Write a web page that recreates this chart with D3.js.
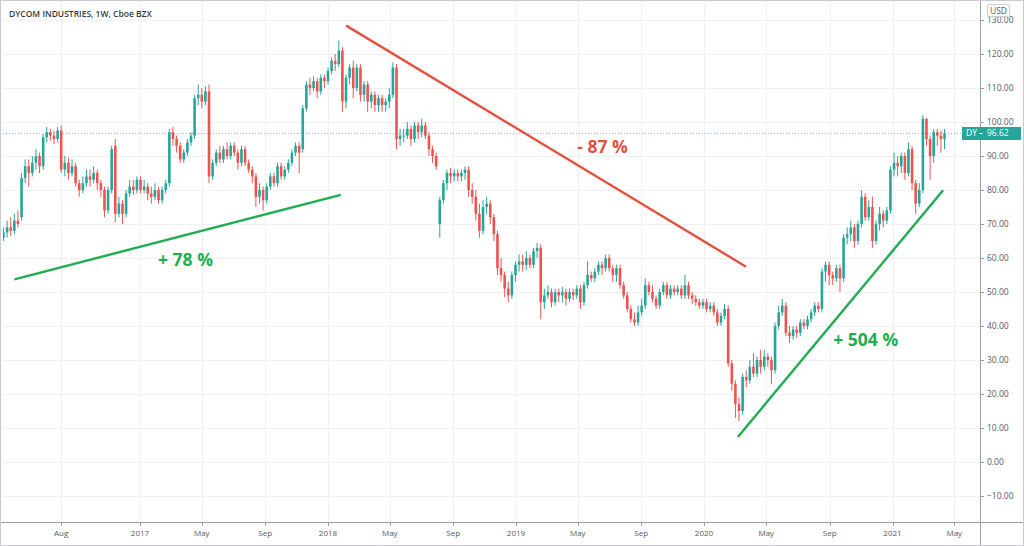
<!DOCTYPE html>
<html><head><meta charset="utf-8">
<script src="https://cdn.jsdelivr.net/npm/d3@7"></script>
<style>
body{margin:0;background:#fff;}
svg{display:block;font-family:"Open Sans","DejaVu Sans",sans-serif;}
</style>
</head><body>
<svg id="chart" width="1024" height="546"></svg>
<script>
// ---- data (weekly candles, DY, from week of 2016-04-11) ----
const firstWeek = "2016-04-11";
const opens = [66,67.5,69,68,71,72,83.5,87,85,88,
 90,87,95.5,97,96,95,97.5,86,88,85,
 87,82,80,82,84,83,85,82,80,74,
 80,93,73,76,73,79,81,80,83,80,
 81,79,78,80,77,80,82,97,95,93,
 89,91,94,96,107,108,106,109,84,88,
 91,89,92,90,93,91,88,92,88,86,
 84,78,80,77,81,84,82,87,84,86,
 88,91,93,92,104,111,110,112,109,113,
 112,115,118,117,121,106,113,116,110,116,
 108,111,106,108,105,107,105,106,108,116,
 95,96,96,98,95,99,97,99,96,92,
 90,70,77,82,85,84,85,84,85,86,
 80,78,73,68,75,76,72,67,57,55,
 51,49,55,58,59,58,60,58,62,63,
 47,49,50,47,50,49,50,48,50,49,
 51,47,52,55,54,56,58,57,60,57,
 55,57,52,49,45,42,41,44,46,52,
 50,48,46,50,52,49,51,50,51,49,
 52,49,48,47,46,47,45,46,44,41,
 43,45,29,23,17,15,25,24,28,26,
 30,28,31,30,27,40,44,46,38,37,
 39,38,41,40,42,44,46,45,56,58,
 55,54,57,54,66,67,69,65,70,78,
 72,75,65,70,73,71,74,86,88,87,
 90,85,92,82,76,80,101,95,90,97,
 96,95];
const highs = [69,71,72,73,74,85,89,89,90,92,
 91,96.5,98.5,98,97.5,98.5,99,90,89.5,89,
 88,83,84,86,86,87,86,83,81,81,
 93,95,78,77,80,83,83,84,84,83,
 82,81,82,81,81,83,98,98.5,96,94,
 92,95,97,108,111,110,110.5,111,89,92,
 93,93,94,94,94,92,93,93,89,87,
 85,82,81,82,85,85,88,88,87,89,
 92,94,94,105,112,113,113.5,113,114,114,
 116,119,120,124,122,114,117,118,117,117,
 112,112,109,109,108,108,107,110,117.5,117,
 98,98,100,99,100,100,101,100,97,93,
 91,78,83,86,86.5,86,86,86,87,87,
 82,80,76,77,78,77,73,68,60,56,
 53,56,59,61,61,62,61,63,64.5,64,
 51,52,51,51,51,51.5,51,51,51,52,
 52,53,59,56,57,59,59,61,61,58,
 58,58,53,50,46,44,46,48,54,53,
 52,49,51,53,53,52,52,52,52,55,
 53,50,49,48,48,48,47,47,45,44,
 46.5,46,30,24,19,26,27,30,32,31,
 33,33,32,31,41,46,48,47,40,40,
 40,42,42,43,45,47,47,57,59,59,
 56,58,58,67,69,71,70,71,80,79,
 77,78,71,75,74,75,87,91,90,91,
 91,94,93,83,82,102,101,96,98,98,
 97.5,98];
const lows = [65,66,66.5,67,69,71,82,81,84,86,
 85,86,94,94.5,93.5,94,85,84,83,84,
 81,78,79,81,81,82,80,78,72,73,
 79,70.5,72,70,72,78,78.5,79,79,79,
 77,76,77,76,76,79,81,93,91,88,
 88,90,93,95,105,104,105,82,83,87,
 88,88,89,89,90,86,87,87,85,82,
 75,76,74,76,80,81,81,83,83,85,
 87,90,85,91,103,108,109,107,108,110,
 111,114,115,116,103,104,111,107,109,106,
 106,103,104,103,103,103,103,104,107,92,
 93,94,95,93,94,95,95.5,95,90,88,
 86,66,76,80,82,82.5,82.5,82.5,83,78,
 76,71,66,67,73,70,65,55,53,48.5,
 47,48,53,56,56,56.5,57,57,60,42,
 45,48,45.5,46,47,47,46,47,47.5,48,
 45,46,51,53,53,55,55,56,56,53,
 53,51,48,44,41,40,40,43,45,49,
 47,45,45,49,48,48,49,49,48,48,
 48,46.5,46,45,45,44,44,43,40,40,
 42,28,21,13,12,14,22,23,25,25,
 26,27,28,23,26,39,43,37,35,36,
 36.5,37,39,39,41,43,44,44,53,52,
 52,53,50,53,64,65,63,64,69,71,
 71,63,64,68,69,70,73,84,84,85,
 83,84,80,73,75,79,93,83,88,93,
 91,92];
const closes = [67.5,69,68,71,70,83.5,87,85,88,90,
 87,95.5,97,96,95,97.5,86,88,85,87,
 82,80,82,84,83,85,82,80,74,80,
 92,73,76,73,79,81,80,83,80,81,
 79,78,80,77,80,82,97,95,93,89,
 91,94,96,107,108,106,109,84,88,91,
 89,92,90,93,91,88,92,88,86,84,
 78,80,77,81,84,82,87,84,86,88,
 91,93,91,104,111,110,112,109,113,112,
 115,118,117,121,106,113,116,110,116,108,
 111,106,108,105,107,105,106,108,116,95,
 96,96,98,95,99,97,99,96,92,90,
 87,77,82,85,84,85,84,85,86,80,
 78,73,68,75,76,72,67,57,55,51,
 49,55,58,59,58,60,58,62,63,47,
 49,50,47,50,49,50,48,50,49,51,
 47,52,55,54,56,58,57,60,57,55,
 57,52,49,45,42,41,44,46,52,50,
 48,46,50,52,49,51,50,51,49,52,
 49,48,47,46,47,45,46,44,41,43,
 45,29,23,17,15,25,24,28,26,30,
 28,31,30,27,40,44,46,38,37,39,
 38,41,40,42,44,46,45,56,58,55,
 54,57,54,66,67,69,65,70,78,72,
 75,65,70,73,71,74,86,88,87,90,
 85,92,82,76,80,101,95,90,97,96,
 95,96.62];

const priceTicks = [-10,0,10,20,30,40,50,60,70,80,90,100,110,120,130];
const timeTickDates = ["2016-08-01","2017-01-01","2017-05-01","2017-09-01","2018-01-01","2018-05-01","2018-09-01",
  "2019-01-01","2019-05-01","2019-09-01","2020-01-01","2020-05-01","2020-09-01","2021-01-01","2021-05-01"];
const timeTickLabels = ["Aug","2017","May","Sep","2018","May","Sep","2019","May","Sep","2020","May","Sep","2021","May"];
const lastPrice = 96.62;
const symbol = "DY";
const title = "DYCOM INDUSTRIES, 1W, Cboe BZX";

// trend lines: [date, price]
const trendNames = ["up1","down","up2"];
const trendStarts = [["2016-05-04",53.8],["2018-02-07",128.2],["2020-03-08",7.6]];
const trendEnds = [["2018-01-24",78.5],["2020-03-21",57.6],["2021-04-08",79.7]];
const trendLabels = ["+ 78 %","- 87 %","+ 504 %"];
const labelAnchors = [["2017-02-05",57.6],["2019-04-30",91.0],["2020-09-08",34.1]];

// ---- layout ----
const svg = d3.select("#chart");
const W = 1024, H = 546;
const plotL = 3, plotR = 980, plotT = 3, plotB = 522;
const up = "#26a69a", down = "#ef5350";
const greenLine = "#1fae50", redLine = "#e5513f";

const parse = d3.utcParse("%Y-%m-%d");
const x = d3.scaleUtc().domain([parse("2016-04-10"), parse("2021-06-16")]).range([3, 978]);
const y = d3.scaleLinear().domain([-17.65, 135]).range([522, 3]);

const start = parse(firstWeek);
const dates = closes.map((_, i) => d3.utcDay.offset(start, 7 * i));

svg.append("rect").attr("width", W).attr("height", H).attr("fill", "#fff");

svg.append("defs").append("clipPath").attr("id", "plotclip")
  .append("rect").attr("x", plotL).attr("y", plotT).attr("width", plotR - plotL).attr("height", plotB - plotT);

// grid
const grid = svg.append("g").attr("clip-path", "url(#plotclip)");
grid.selectAll("line.h").data(priceTicks).join("line")
  .attr("x1", plotL).attr("x2", plotR)
  .attr("y1", d => Math.round(y(d)) + 0.5).attr("y2", d => Math.round(y(d)) + 0.5)
  .attr("stroke", "#eef0f3").attr("stroke-width", 1);
grid.selectAll("line.v").data(timeTickDates).join("line")
  .attr("x1", d => Math.round(x(parse(d))) + 0.5).attr("x2", d => Math.round(x(parse(d))) + 0.5)
  .attr("y1", plotT).attr("y2", plotB)
  .attr("stroke", "#eef0f3").attr("stroke-width", 1);

// last price dotted line
grid.append("line")
  .attr("x1", plotL).attr("x2", plotR)
  .attr("y1", Math.round(y(lastPrice)) + 0.5).attr("y2", Math.round(y(lastPrice)) + 0.5)
  .attr("stroke", "#7fcfc6").attr("stroke-width", 1).attr("stroke-dasharray", "1,2");

// candles
const idx = d3.range(closes.length);
const cg = svg.append("g").attr("clip-path", "url(#plotclip)");
const bw = 2.6;
cg.selectAll("line.wick").data(idx).join("line")
  .attr("x1", i => x(dates[i])).attr("x2", i => x(dates[i]))
  .attr("y1", i => y(highs[i])).attr("y2", i => y(lows[i]))
  .attr("stroke", i => closes[i] >= opens[i] ? up : down).attr("stroke-width", 1);
cg.selectAll("rect.body").data(idx).join("rect")
  .attr("x", i => x(dates[i]) - bw / 2)
  .attr("width", bw)
  .attr("y", i => y(Math.max(opens[i], closes[i])))
  .attr("height", i => Math.max(1, Math.abs(y(opens[i]) - y(closes[i]))))
  .attr("fill", i => closes[i] >= opens[i] ? up : down);

// trend lines + labels
const tl = svg.append("g").attr("clip-path", "url(#plotclip)");
trendNames.forEach((n, k) => {
  tl.append("line")
    .attr("x1", x(parse(trendStarts[k][0]))).attr("y1", y(trendStarts[k][1]))
    .attr("x2", x(parse(trendEnds[k][0]))).attr("y2", y(trendEnds[k][1]))
    .attr("stroke", n === "down" ? redLine : greenLine)
    .attr("stroke-width", 2.4).attr("stroke-linecap", "round");
  tl.append("text")
    .attr("x", x(parse(labelAnchors[k][0]))).attr("y", y(labelAnchors[k][1]))
    .attr("fill", n === "down" ? redLine : greenLine)
    .attr("font-size", 17.5).attr("font-weight", 700)
    .attr("font-family", "'Open Sans', sans-serif")
    .text(trendLabels[k]);
});

// axes frame
svg.append("line").attr("x1", plotR + 0.5).attr("x2", plotR + 0.5).attr("y1", 0).attr("y2", H)
  .attr("stroke", "#9a9ea6").attr("stroke-width", 1);
svg.append("line").attr("x1", 0).attr("x2", W).attr("y1", plotB + 0.5).attr("y2", plotB + 0.5)
  .attr("stroke", "#9a9ea6").attr("stroke-width", 1);

// right price axis
const ra = svg.append("g");
ra.selectAll("line").data(priceTicks).join("line")
  .attr("x1", plotR + 1).attr("x2", plotR + 4)
  .attr("y1", d => Math.round(y(d)) + 0.5).attr("y2", d => Math.round(y(d)) + 0.5)
  .attr("stroke", "#9a9ea6");
ra.selectAll("text").data(priceTicks).join("text")
  .attr("x", plotR + 7).attr("y", d => y(d) + 3)
  .attr("font-size", 8.5).attr("fill", "#555a63")
  .text(d => d3.format(".2f")(d).replace("-", "\u2212"));

// bottom time axis
const ba = svg.append("g");
ba.selectAll("line").data(timeTickDates).join("line")
  .attr("x1", d => Math.round(x(parse(d))) + 0.5).attr("x2", d => Math.round(x(parse(d))) + 0.5)
  .attr("y1", plotB + 1).attr("y2", plotB + 4).attr("stroke", "#9a9ea6");
ba.selectAll("text").data(timeTickDates).join("text")
  .attr("x", d => x(parse(d))).attr("y", 536)
  .attr("text-anchor", "middle").attr("font-size", 8).attr("fill", "#555a63")
  .text((d, i) => timeTickLabels[i]);

// USD badge (covers the top of the 130.00 label, as in the original)
svg.append("rect").attr("x", 987.5).attr("y", 4.5).attr("width", 22).attr("height", 12)
  .attr("fill", "#fff").attr("stroke", "#c9ccd2").attr("rx", 2);
svg.append("text").attr("x", 998.5).attr("y", 13.5).attr("text-anchor", "middle")
  .attr("font-size", 8.5).attr("fill", "#555a63").text("USD");

// last price tag
const ty = y(lastPrice);
svg.append("rect").attr("x", 962).attr("y", ty - 6.5).attr("width", 59).attr("height", 13)
  .attr("fill", up);
svg.append("line").attr("x1", 979).attr("x2", 983).attr("y1", ty).attr("y2", ty).attr("stroke", "#fff");
svg.append("text").attr("x", 966).attr("y", ty + 3).attr("font-size", 8.5).attr("fill", "#fff").text(symbol);
svg.append("text").attr("x", 987).attr("y", ty + 3).attr("font-size", 8.5).attr("fill", "#fff").text(d3.format(".2f")(lastPrice));

// title
svg.append("text").attr("x", 9).attr("y", 17).attr("font-size", 8.5).attr("font-weight", 600)
  .attr("fill", "#333a45").text(title);

// outer frame
svg.append("rect").attr("x", 0.5).attr("y", 0.5).attr("width", W - 1).attr("height", H - 1)
  .attr("fill", "none").attr("stroke", "#c8cbd0");
</script>
</body></html>
